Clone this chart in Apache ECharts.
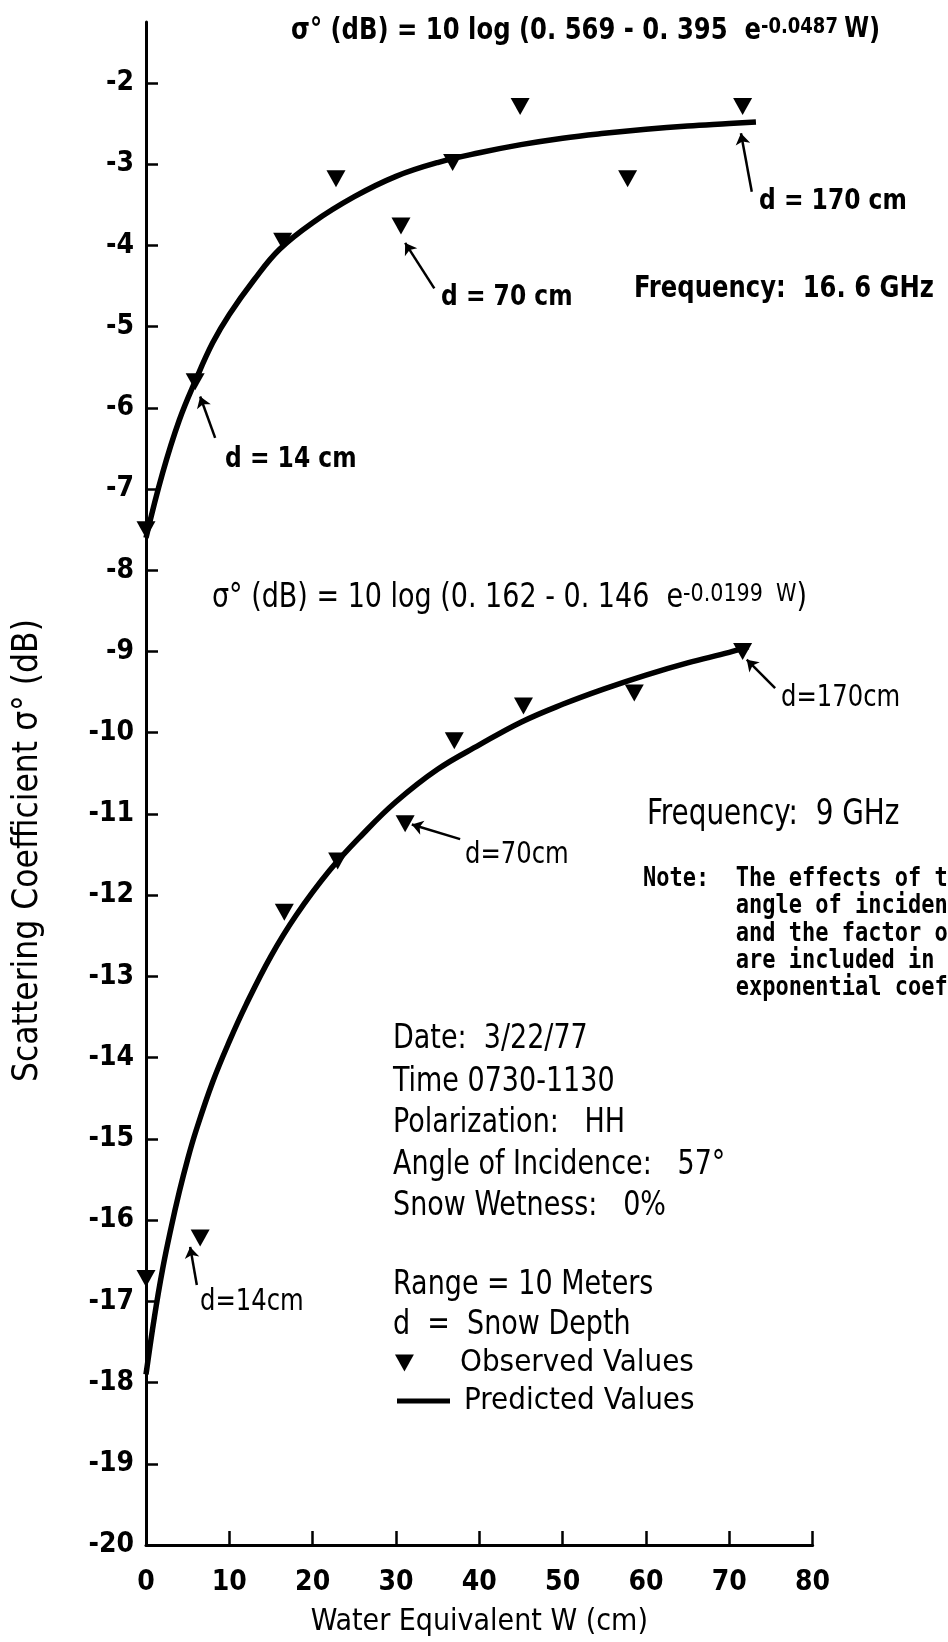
<!DOCTYPE html>
<html><head><meta charset="utf-8">
<script src="https://cdn.jsdelivr.net/npm/echarts@6/dist/echarts.min.js"></script>
<style>html,body{margin:0;padding:0;background:#fff}#c{width:948px;height:1642px}</style>
</head><body><div id="c"></div>
<script>
// ---- data ----
const xTicks = [0, 10, 20, 30, 40, 50, 60, 70, 80];
const yTicks = [-20, -19, -18, -17, -16, -15, -14, -13, -12, -11, -10, -9, -8, -7, -6, -5, -4, -3, -2];

// 16.6 GHz
const obs166W = [0, 5.9, 16.4, 22.8, 30.6, 36.8, 44.9, 57.8, 71.6];
const obs166Y = [-7.5, -5.68, -3.95, -3.18, -3.76, -2.98, -2.29, -3.18, -2.29];
const pred166W = [0, 2, 4, 6, 8, 10, 13, 16, 20, 25, 30, 35, 40, 45, 50, 55, 60, 65, 70, 73.2];
const pred166Y = [-7.6, -6.8, -6.15, -5.65, -5.2, -4.85, -4.42, -4.05, -3.72, -3.4, -3.15, -2.98, -2.86, -2.76, -2.68, -2.62, -2.57, -2.53, -2.5, -2.48];

// 9 GHz
const obs9W = [0, 6.5, 16.6, 23.0, 31.1, 37.0, 45.3, 58.6, 71.6];
const obs9Y = [-16.72, -16.22, -12.21, -11.58, -11.12, -10.1, -9.67, -9.51, -9.0];
const pred9W = [0, 1, 2, 3, 4, 5, 6, 8, 10, 12, 15, 18, 22, 26, 30, 35, 40, 45, 50, 55, 60, 65, 70, 72.3];
const pred9Y = [-17.9, -17.2, -16.6, -16.1, -15.65, -15.25, -14.9, -14.3, -13.8, -13.35, -12.75, -12.25, -11.7, -11.25, -10.85, -10.45, -10.15, -9.87, -9.65, -9.46, -9.29, -9.14, -9.01, -8.94];

// arrows (data coordinates: from label -> to marker)
const arrowFrom = [[8.3, -6.37], [34.6, -4.53], [72.7, -3.34], [6.1, -16.8], [37.7, -11.31], [75.5, -9.45]];
const arrowTo   = [[6.5, -5.86], [31.1, -3.97], [71.4, -2.62], [5.3, -16.33], [31.9, -11.13], [72.1, -9.1]];
const arrowCurve = [0, 0, 0, -0.45, 0, 0];

// ---- chart ----
const F = "'DejaVu Sans Condensed', 'DejaVu Sans', sans-serif";
const MONO = "'DejaVu Sans Mono', 'Liberation Mono', monospace";
const pairs = (xs, ys) => xs.map((x, i) => [x, ys[i]]);
const TRI = 'path://M0,0L20,0L10,18Z';

const chart = echarts.init(document.getElementById('c'), null, {renderer: 'canvas'});

const arrowData = arrowFrom.map((f, i) => [
  {coord: f, symbol: 'none', lineStyle: {curveness: arrowCurve[i]}},
  {coord: arrowTo[i], symbol: 'arrow'}
]);

function txt(x, y, text, size, weight, sy) {
  return {
    type: 'text', x: x, y: y, silent: true, scaleY: sy || 1,
    style: {text: text, fill: '#000', font: (weight || 'normal') + ' ' + size + 'px ' + F,
            align: 'left', verticalAlign: 'middle'}
  };
}

const option = {
  backgroundColor: '#fff',
  animation: false,
  grid: {left: 146, right: 135.4, top: 22, bottom: 90, containLabel: false},
  xAxis: {
    type: 'value', min: 0, max: 80, interval: 10,
    name: 'Water Equivalent W (cm)', nameLocation: 'middle', nameGap: 62,
    nameTextStyle: {fontFamily: F, fontSize: 30, color: '#000'},
    axisLine: {lineStyle: {color: '#000', width: 3}},
    axisTick: {inside: true, length: 14, customValues: xTicks, lineStyle: {color: '#000', width: 2.5}},
    axisLabel: {color: '#000', fontFamily: F, fontSize: 28, fontWeight: 'bold', margin: 24, customValues: xTicks},
    splitLine: {show: false}
  },
  yAxis: {
    type: 'value', min: -20, max: -1.25, interval: 1,
    name: 'Scattering Coefficient σ° (dB)', nameLocation: 'middle', nameGap: 101, nameRotate: 90,
    nameTextStyle: {fontFamily: F, fontSize: 35, color: '#000', padding: [0, 134, 0, 0]},
    axisLine: {lineStyle: {color: '#000', width: 3}},
    axisTick: {inside: true, length: 12, customValues: yTicks, lineStyle: {color: '#000', width: 2.5}},
    axisLabel: {color: '#000', fontFamily: F, fontSize: 28, fontWeight: 'bold', margin: 12,
                customValues: yTicks},
    splitLine: {show: false}
  },
  legend: [
    {data: [{name: 'Observed Values', icon: TRI}], left: 395, top: 1346, padding: 0,
     itemWidth: 19, itemHeight: 17, selectedMode: false,
     textStyle: {fontFamily: F, fontSize: 31, color: '#000', lineHeight: 34, padding: [0, 0, 0, 41]}},
    {data: [{name: 'Predicted Values', icon: 'rect'}], left: 397, top: 1384, padding: 0,
     itemWidth: 53, itemHeight: 5, selectedMode: false,
     textStyle: {fontFamily: F, fontSize: 31, color: '#000', lineHeight: 34, padding: [0, 0, 0, 9]}}
  ],
  series: [
    {name: 'Predicted Values', type: 'line', data: pairs(pred166W, pred166Y), smooth: 0.4,
     showSymbol: false, symbol: 'none', lineStyle: {color: '#000', width: 5.5}, itemStyle: {color: '#000'}, z: 3},
    {name: 'Predicted Values', type: 'line', data: pairs(pred9W, pred9Y), smooth: 0.4,
     showSymbol: false, symbol: 'none', lineStyle: {color: '#000', width: 5.5}, itemStyle: {color: '#000'}, z: 3},
    {name: 'Observed Values', type: 'scatter', data: pairs(obs166W, obs166Y), symbol: TRI,
     symbolSize: [19, 17], itemStyle: {color: '#000', opacity: 1}, clip: false, z: 4},
    {name: 'Observed Values', type: 'scatter', data: pairs(obs9W, obs9Y), symbol: TRI,
     symbolSize: [19, 17], itemStyle: {color: '#000', opacity: 1}, clip: false, z: 4,
     markLine: {silent: true, symbolSize: 11, label: {show: false},
                lineStyle: {color: '#000', width: 2.5, type: 'solid', opacity: 1}, data: arrowData}}
  ],
  graphic: [
    {type: 'text', x: 291, y: 31, silent: true, scaleY: 1.1, style: {
      text: '{a|σ° (dB) = 10 log (0. 569 - 0. 395  e}{s|-0.0487 }{w|W}{a|)}', align: 'left', verticalAlign: 'middle',
      rich: {a: {fontFamily: F, fontSize: 27, fontWeight: 'bold', fill: '#000'},
             s: {fontFamily: F, fontSize: 20, fontWeight: 'bold', fill: '#000', verticalAlign: 'top'},
             w: {fontFamily: F, fontSize: 25, fontWeight: 'bold', fill: '#000', verticalAlign: 'top'}}}},
    {type: 'text', x: 212, y: 598, silent: true, scaleY: 1.1, style: {
      text: '{a|σ° (dB) = 10 log (0. 162 - 0. 146  e}{s|-0.0199  W}{a|)}', align: 'left', verticalAlign: 'middle',
      rich: {a: {fontFamily: F, fontSize: 30, fill: '#000'},
             s: {fontFamily: F, fontSize: 23, fill: '#000', verticalAlign: 'top'}}}},
    txt(759, 201, 'd = 170 cm', 26, 'bold', 1.12),
    txt(441, 297, 'd = 70 cm', 26, 'bold', 1.12),
    txt(634, 289, 'Frequency:  16. 6 GHz', 27, 'bold', 1.12),
    txt(225, 459, 'd = 14 cm', 26, 'bold', 1.12),
    txt(781, 698, 'd=170cm', 27, 'normal', 1.12),
    txt(647, 815, 'Frequency:  9 GHz', 31, 'normal', 1.12),
    txt(465, 855, 'd=70cm', 27, 'normal', 1.12),
    txt(200, 1302, 'd=14cm', 27, 'normal', 1.12),
    {type: 'text', x: 643, y: 866, silent: true, scaleY: 1.18, style: {
      text: 'Note:  The effects of the\n       angle of incidence\n       and the factor of\n       are included in the\n       exponential coefficient',
      fill: '#000', font: 'bold 22px ' + MONO, lineHeight: 23, align: 'left', verticalAlign: 'top'}},
    txt(393, 1039, 'Date:  3/22/77', 30, 'normal', 1.12),
    txt(393, 1082, 'Time 0730-1130', 30, 'normal', 1.12),
    txt(393, 1123, 'Polarization:   HH', 30, 'normal', 1.12),
    txt(393, 1165, 'Angle of Incidence:   57°', 30, 'normal', 1.12),
    txt(393, 1206, 'Snow Wetness:   0%', 30, 'normal', 1.12),
    txt(393, 1285, 'Range = 10 Meters', 30, 'normal', 1.12),
    txt(393, 1325, 'd  =  Snow Depth', 30, 'normal', 1.12)
  ]
};
chart.setOption(option);
</script>
</body></html>
